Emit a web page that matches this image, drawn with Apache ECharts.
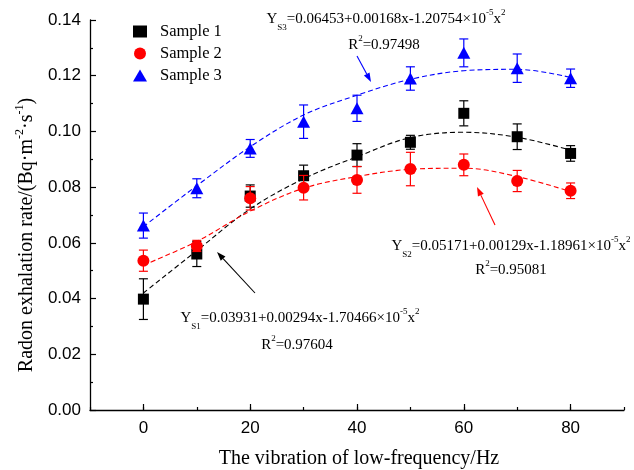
<!DOCTYPE html>
<html>
<head>
<meta charset="utf-8">
<script src="https://cdn.jsdelivr.net/npm/echarts@6/dist/echarts.min.js"></script>
<style>html,body{margin:0;padding:0;background:#fff;}#c{width:634px;height:470px;}</style>
</head>
<body>
<div id="c"></div>
<script>
const freq = [0, 10, 20, 30, 40, 50, 60, 70, 80];
const xTickLabels = [0, 20, 40, 60, 80];
const s1 = [0.0398, 0.0560, 0.0768, 0.0841, 0.0915, 0.0961, 0.1065, 0.0981, 0.0921];
const s1Err = [0.0073, 0.0045, 0.0040, 0.0038, 0.0041, 0.0025, 0.0045, 0.0046, 0.0028];
const s2 = [0.0536, 0.0589, 0.0760, 0.0798, 0.0826, 0.0865, 0.0880, 0.0822, 0.0787];
const s2Err = [0.0038, 0.0020, 0.0042, 0.0044, 0.0048, 0.0060, 0.0039, 0.0038, 0.0028];
const s3 = [0.0662, 0.0796, 0.0939, 0.1035, 0.1083, 0.1190, 0.1282, 0.1227, 0.1191];
const s3Err = [0.0045, 0.0034, 0.0032, 0.0060, 0.0047, 0.0042, 0.0050, 0.0051, 0.0033];
const fit1 = [0.0420, 0.0572, 0.0722, 0.0830, 0.0909, 0.0978, 0.0997, 0.0979, 0.0933];
const fit2 = [0.0520, 0.0605, 0.0714, 0.0796, 0.0838, 0.0864, 0.0868, 0.0838, 0.0784];
const fit3 = [0.0658, 0.0805, 0.0945, 0.1059, 0.1130, 0.1187, 0.1218, 0.1223, 0.1194];
const names = ['Sample 1', 'Sample 2', 'Sample 3'];

const SERIF = '"Liberation Serif","Times New Roman",serif';
const SANS = '"Liberation Sans",Arial,sans-serif';

const chart = echarts.init(document.getElementById('c'), null, {renderer: 'canvas'});

function pairs(xs, ys) { return xs.map((x, i) => [x, ys[i]]); }
function errData(xs, ys, es) { return xs.map((x, i) => [x, ys[i] - es[i], ys[i] + es[i]]); }

function errSeries(name, xs, ys, es, color, z) {
  return {
    type: 'custom', name: name + ' err', z: z, silent: true,
    data: errData(xs, ys, es),
    encode: {x: 0, y: [1, 2]},
    renderItem: function (params, api) {
      const lo = api.coord([api.value(0), api.value(1)]);
      const hi = api.coord([api.value(0), api.value(2)]);
      const w = 4.5;
      const st = {stroke: color, lineWidth: 1.2};
      return {
        type: 'group',
        children: [
          {type: 'line', shape: {x1: lo[0], y1: lo[1], x2: hi[0], y2: hi[1]}, style: st},
          {type: 'line', shape: {x1: lo[0] - w, y1: lo[1], x2: lo[0] + w, y2: lo[1]}, style: st},
          {type: 'line', shape: {x1: hi[0] - w, y1: hi[1], x2: hi[0] + w, y2: hi[1]}, style: st}
        ]
      };
    }
  };
}

function fitSeries(name, xs, ys, color) {
  return {
    type: 'line', name: name + ' fit', data: pairs(xs, ys), smooth: 0.35,
    showSymbol: false, symbol: 'none', silent: true, z: 1,
    lineStyle: {color: color, width: 1.1, type: [5, 3]}
  };
}

function rt(size) {
  return {
    m: {fontFamily: SERIF, fontSize: size, color: '#000', lineHeight: size + 6},
    sup: {fontFamily: SERIF, fontSize: Math.round(size * 0.6), color: '#000', verticalAlign: 'top', lineHeight: size + 6},
    sub: {fontFamily: SERIF, fontSize: Math.round(size * 0.6), color: '#000', verticalAlign: 'bottom', lineHeight: size + 6, padding: [0, 0, -3, 0]}
  };
}

function eqText(x, y, subName, body) {
  return {
    type: 'text', x: x, y: y, z: 100,
    style: {
      text: '{m|Y}{sub|' + subName + '}{m|' + body + '×10}{sup|-5}{m|x}{sup|2}',
      rich: rt(15), align: 'center', verticalAlign: 'middle'
    }
  };
}
function r2Text(x, y, val) {
  return {
    type: 'text', x: x, y: y, z: 100,
    style: {text: '{m|R}{sup|2}{m|=' + val + '}', rich: rt(15), align: 'center', verticalAlign: 'middle'}
  };
}
function arrow(x1, y1, x2, y2, color) {
  const ang = Math.atan2(y2 - y1, x2 - x1);
  const L = 9, W = 3.2;
  const bx = x2 - L * Math.cos(ang), by = y2 - L * Math.sin(ang);
  const px = -Math.sin(ang) * W, py = Math.cos(ang) * W;
  return [
    {type: 'line', z: 100, shape: {x1: x1, y1: y1, x2: bx, y2: by}, style: {stroke: color, lineWidth: 1.1}},
    {type: 'polygon', z: 100, shape: {points: [[x2, y2], [bx + px, by + py], [bx - px, by - py]]}, style: {fill: color}}
  ];
}

const option = {
  backgroundColor: '#fff',
  animation: false,
  grid: {left: 90, right: 10, top: 20, bottom: 60},
  legend: {
    data: names, orient: 'vertical', left: 128, top: 18,
    itemWidth: 14, itemHeight: 12, itemGap: 5,
    itemStyle: {opacity: 1},
    textStyle: {fontFamily: SERIF, fontSize: 16.5, color: '#000', padding: [0, 0, 0, 8]}
  },
  xAxis: [{
    type: 'value', min: -10, max: 90, interval: 10,
    axisLine: {show: true, onZero: false, lineStyle: {color: '#000', width: 1.3}},
    axisTick: {show: true, inside: true, length: 3, lineStyle: {color: '#000', width: 1.2}},
    axisLabel: {
      fontFamily: SANS, fontSize: 17, color: '#000', margin: 10,
      formatter: v => (xTickLabels.indexOf(v) >= 0 ? String(v) : '')
    },
    splitLine: {show: false}
  }, {
    type: 'value', min: -10, max: 90, position: 'bottom',
    axisLine: {show: false, onZero: false},
    axisTick: {show: true, inside: true, length: 6, customValues: xTickLabels, lineStyle: {color: '#000', width: 1.2}},
    axisLabel: {show: false}, splitLine: {show: false}
  }],
  yAxis: {
    type: 'value', min: 0, max: 0.14, interval: 0.02,
    axisLine: {show: true, onZero: false, lineStyle: {color: '#000', width: 1.3}},
    axisTick: {show: true, inside: true, length: 6, lineStyle: {color: '#000', width: 1.2}},
    minorTick: {show: true, splitNumber: 2, length: 3, lineStyle: {color: '#000', width: 1.2}},
    axisLabel: {fontFamily: SANS, fontSize: 17, color: '#000', margin: 9, formatter: v => v.toFixed(2)},
    splitLine: {show: false}
  },
  series: [
    fitSeries(names[0], freq, fit1, '#000'),
    fitSeries(names[1], freq, fit2, '#ff0000'),
    fitSeries(names[2], freq, fit3, '#0000ff'),
    errSeries(names[0], freq, s1, s1Err, '#000', 3),
    {type: 'scatter', name: names[0], data: pairs(freq, s1), symbol: 'rect', symbolSize: 11, itemStyle: {color: '#000', opacity: 1}, z: 4},
    errSeries(names[1], freq, s2, s2Err, '#ff0000', 5),
    {type: 'scatter', name: names[1], data: pairs(freq, s2), symbol: 'circle', symbolSize: 12, itemStyle: {color: '#ff0000', opacity: 1}, z: 6},
    errSeries(names[2], freq, s3, s3Err, '#0000ff', 7),
    {type: 'scatter', name: names[2], data: pairs(freq, s3), symbol: 'triangle', symbolSize: [13, 12], itemStyle: {color: '#0000ff', opacity: 1}, z: 8}
  ],
  graphic: [
    {
      type: 'text', x: 27, y: 235, rotation: Math.PI / 2, z: 100,
      style: {
        text: '{m|Radon exhalation rate/(Bq·m}{sup|-2}{m|·s}{sup|-1}{m|)}',
        rich: rt(20), align: 'center', verticalAlign: 'middle'
      }
    },
    {
      type: 'text', x: 359, y: 459, z: 100,
      style: {text: 'The vibration of low-frequency/Hz', fontFamily: SERIF, fontSize: 20, fill: '#000', align: 'center', verticalAlign: 'middle'}
    },
    eqText(386, 19, 'S3', '=0.06453+0.00168x-1.20754'),
    r2Text(384, 45, '0.97498'),
    eqText(511, 246, 'S2', '=0.05171+0.00129x-1.18961'),
    r2Text(511, 270, '0.95081'),
    eqText(300, 318, 'S1', '=0.03931+0.00294x-1.70466'),
    r2Text(297, 345, '0.97604')
  ].concat(arrow(357, 56, 371, 82, '#0000ff'))
   .concat(arrow(495, 225, 477, 187, '#ff0000'))
   .concat(arrow(255, 293, 217, 252, '#000'))
};
chart.setOption(option);
</script>
</body>
</html>
